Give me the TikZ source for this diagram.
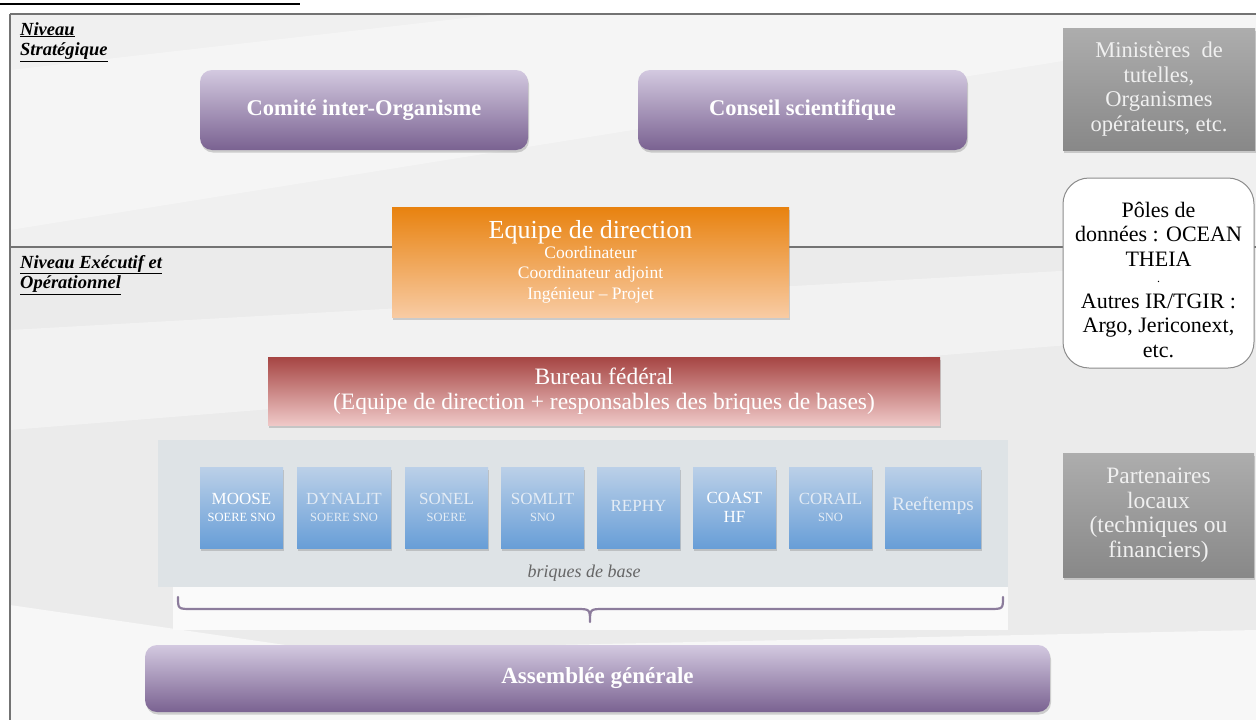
\documentclass[tikz,border=0pt]{standalone}
\usepackage{fontspec}
\setmainfont{Liberation Serif}
\usetikzlibrary{shadows}
\definecolor{pTop}{HTML}{D3C9E0}
\definecolor{pBot}{HTML}{7A6291}
\definecolor{oTop}{HTML}{E8820F}
\definecolor{oBot}{HTML}{F8CBA3}
\definecolor{rTop}{HTML}{A64543}
\definecolor{rBot}{HTML}{EFC8C7}
\definecolor{bTop}{HTML}{BBD0E8}
\definecolor{bBot}{HTML}{689ED7}
\definecolor{gTop}{HTML}{ADADAD}
\definecolor{gBot}{HTML}{888888}
\definecolor{btxt}{HTML}{E4ECF5}
\definecolor{braceC}{HTML}{8C7C9C}
\definecolor{panelC}{HTML}{DEE3E6}
\tikzset{
  shad/.style={drop shadow={opacity=0.35,shadow xshift=1pt,shadow yshift=-2.5pt}},
  purplebox/.style={rounded corners=12pt,top color=pTop,bottom color=pBot,shad,
    text=white,font=\fontsize{22.5}{24}\selectfont\bfseries,inner sep=0pt},
  graybox/.style={top color=gTop,bottom color=gBot,shad,text=white!94!black,
    font=\fontsize{22.5}{24.8}\selectfont,align=center,inner sep=0pt},
  bluebox/.style={top color=bTop,bottom color=bBot,shad,text=btxt,
    font=\fontsize{17}{18}\selectfont,align=center,inner sep=0pt,
    minimum height=81pt},
  lvl/.style={anchor=north west,align=left,font=\fontsize{18.5}{20.5}\selectfont\bfseries\itshape,inner sep=0pt}
}
\newcommand{\sublab}[1]{{\fontsize{12.5}{13}\selectfont #1}}
\begin{document}
\begin{tikzpicture}[x=1pt,y=-1pt]
\useasboundingbox (0,0) rectangle (1256,720);
\fill[white] (0,0) rectangle (1256,720);
% backgrounds
\fill[black!6] (10,14) rectangle (1256,247);
\fill[black!4] (10,70) -- (500,14) -- (1256,14) -- (1256,30) -- (10,230) -- cycle;
\fill[black!8] (10,247) rectangle (1256,720);
\fill[black!5] (10,330) -- (1256,260) -- (1256,330) -- (10,430) -- cycle;
\fill[black!3] (10,605) -- (320,650) -- (1256,630) -- (1256,720) -- (10,720) -- cycle;
% frame lines
\draw[line width=2pt,black] (0,4) -- (300,4);
\draw[black!55,line width=1.3pt] (10,14) -- (1256,14);
\draw[black!55,line width=1.3pt] (10,14) -- (10,720);
\draw[black!55,line width=1.3pt] (10,247) -- (1256,247);
% level labels
\node[lvl] (lvlS) at (20,22) {\underline{Niveau}\\\underline{Stratégique}};
\node[lvl] (lvlE) at (20,255) {\underline{Niveau Exécutif et}\\\underline{Opérationnel}};
% strategic boxes
\node[purplebox,minimum width=328pt,minimum height=80pt] (comite) at (364,110) {Comité inter-Organisme};
\node[purplebox,minimum width=329pt,minimum height=80pt] (conseil) at (802.5,110) {Conseil scientifique};
\node[graybox,minimum width=192pt,minimum height=122pt] (minist) at (1159,89) {Ministères\ \ de\\tutelles,\\Organismes\\opérateurs, etc.};
% poles
\node[draw=black!45,line width=1pt,fill=white,rounded corners=26pt,minimum width=191pt,minimum height=190pt,
  align=center,inner sep=0pt,font=\fontsize{22}{24.3}\selectfont] (poles) at (1158.5,273)
  {\rule{0pt}{29pt}Pôles de\\données : OCEAN\\THEIA\\[-8pt]{\fontsize{12}{12}\selectfont .}\\[2pt]Autres IR/TGIR :\\Argo, Jericonext,\\etc.};
% equipe de direction
\node[top color=oTop,bottom color=oBot,shad,minimum width=397pt,minimum height=110pt,inner sep=0pt,
  text=white,align=center,font=\fontsize{17.5}{20.5}\selectfont] (equipe) at (590.5,262)
  {{\fontsize{26}{26}\selectfont Equipe de direction}\\[-1pt]
   Coordinateur\\Coordinateur adjoint\\Ingénieur -- Projet};
% bureau
\node[top color=rTop,bottom color=rBot,shad,minimum width=672pt,minimum height=68pt,inner sep=0pt,
  text=white,align=center,font=\fontsize{23.5}{24.5}\selectfont] (bureau) at (604,391)
  {Bureau fédéral\\(Equipe de direction + responsables des briques de bases)};
% briques panel
\fill[black!2] (173,587) rectangle (1008,630);
\fill[panelC] (158,440) rectangle (1008,587);
\node[text=black!60,font=\fontsize{18}{18}\selectfont\itshape] (briq) at (584,573) {briques de base};
\node[bluebox,minimum width=83pt,text=white] (moose) at (241.5,507.5) {MOOSE\\[-1pt]\sublab{SOERE SNO}};
\node[bluebox,minimum width=94pt] (dynalit) at (344,507.5) {DYNALIT\\[-1pt]\sublab{SOERE SNO}};
\node[bluebox,minimum width=83pt] (sonel) at (446.5,507.5) {SONEL\\[-1pt]\sublab{SOERE}};
\node[bluebox,minimum width=83pt] (somlit) at (542.5,507.5) {SOMLIT\\[-1pt]\sublab{SNO}};
\node[bluebox,minimum width=83pt] (rephy) at (638.5,507.5) {\raisebox{3pt}{REPHY}};
\node[bluebox,minimum width=83pt,text=white] (coast) at (734.5,507.5) {COAST\\[1pt]HF};
\node[bluebox,minimum width=83pt] (corail) at (830.5,507.5) {CORAIL\\[-1pt]\sublab{SNO}};
\node[bluebox,minimum width=96pt,font=\fontsize{19}{19}\selectfont] (reef) at (933,507.5) {\raisebox{8pt}{Reeftemps}};
% partenaires
\node[graybox,minimum width=191pt,minimum height=124pt,font=\fontsize{23.5}{24.5}\selectfont] (part) at (1158.5,515) {\raisebox{2pt}{Partenaires}\\\raisebox{2pt}{locaux}\\\raisebox{2pt}{(techniques ou}\\\raisebox{2pt}{financiers)}};
% brace
\draw[braceC,line width=2.2pt,line cap=round,line join=round]
  (178,597) .. controls (178,609) .. (192,609) -- (576,609)
  .. controls (590,609) .. (590,622) .. controls (590,609) .. (604,609)
  -- (989,609) .. controls (1003,609) .. (1003,597);
% assemblee
\node[purplebox,minimum width=905pt,minimum height=67pt,font=\fontsize{23}{24}\selectfont\bfseries] (ag) at (597.5,678.5) {Assemblée générale};
\end{tikzpicture}
\end{document}
